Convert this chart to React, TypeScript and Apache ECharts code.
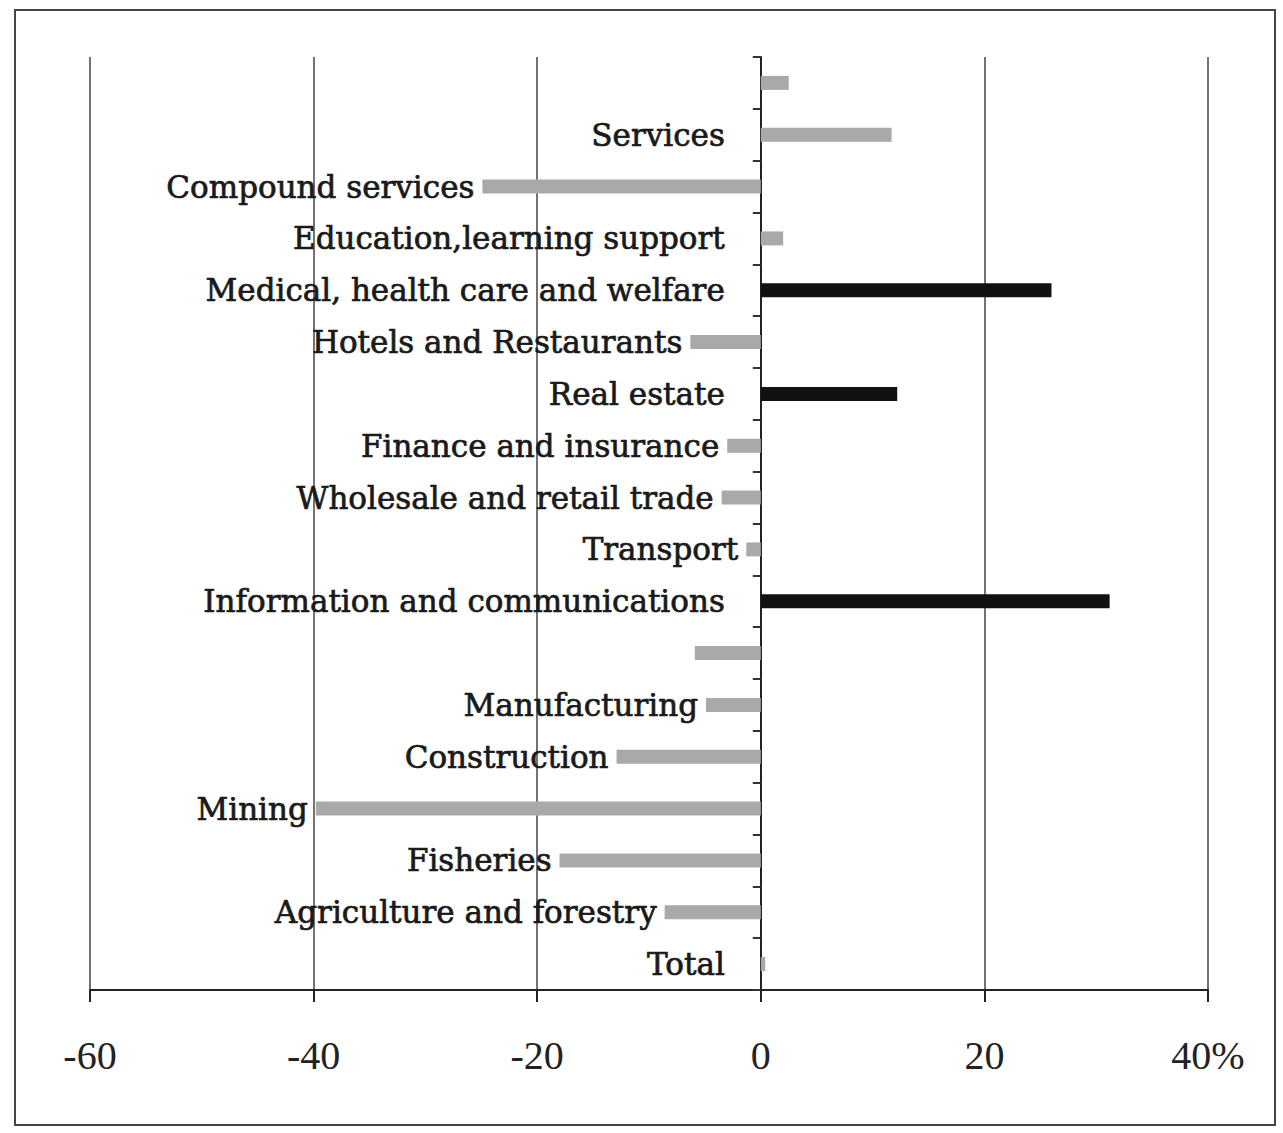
import React, { useEffect, useRef } from "react";
import * as echarts from "echarts";

// Categories listed top to bottom as in the picture
const categories: string[] = [
  "",
  "Services",
  "Compound services",
  "Education,learning support",
  "Medical, health care and welfare",
  "Hotels and Restaurants",
  "Real estate",
  "Finance and insurance",
  "Wholesale and retail trade",
  "Transport",
  "Information and communications",
  " ",
  "Manufacturing",
  "Construction",
  "Mining",
  "Fisheries",
  "Agriculture and forestry",
  "Total",
];

const values: number[] = [
  2.5, 11.7, -24.9, 2.0, 26.0, -6.3, 12.2, -3.0, -3.5, -1.3, 31.2, -5.9, -4.9,
  -12.9, -39.8, -18.0, -8.6, 0.4,
];

const darkCategories: string[] = [
  "Medical, health care and welfare",
  "Real estate",
  "Information and communications",
];

const xTicks = { min: -60, max: 40, interval: 20 };

export default function App() {
  const ref = useRef<HTMLDivElement>(null);
  useEffect(() => {
    document.body.style.margin = "0";
    const chart = echarts.init(ref.current!, null, { renderer: "svg" });
    const labelFont = "DejaVu Serif";
    chart.setOption({
      animation: false,
      backgroundColor: "#ffffff",
      graphic: [
        {
          type: "rect",
          shape: { x: 15, y: 10, width: 1260, height: 1115 },
          style: { fill: "none", stroke: "#444", lineWidth: 2 },
        },
      ],
      grid: { left: 90, right: 75, top: 57, bottom: 143, containLabel: false },
      xAxis: {
        type: "value",
        min: xTicks.min,
        max: xTicks.max,
        interval: xTicks.interval,
        axisLine: { show: true, onZero: false, lineStyle: { color: "#222", width: 2 } },
        axisTick: { show: true, length: 12, lineStyle: { color: "#222", width: 2 } },
        splitLine: { show: true, lineStyle: { color: "#444", width: 1.5 } },
        axisLabel: {
          margin: 45,
          fontFamily: "Liberation Serif",
          fontSize: 40,
          color: "#222",
          formatter: (v: number) => (v === xTicks.max ? `${v}%` : String(v)),
        },
      },
      yAxis: {
        type: "category",
        inverse: true,
        data: categories,
        axisLine: { show: true, onZero: true, lineStyle: { color: "#222", width: 2 } },
        axisTick: { show: true, length: 8, lineStyle: { color: "#333", width: 2 } },
        axisLabel: { show: false },
        splitLine: { show: false },
      },
      series: [
        {
          type: "bar",
          barWidth: 14,
          data: values.map((v, i) => ({
            value: v,
            itemStyle: {
              color: darkCategories.includes(categories[i]) ? "#111" : "#a9a9a9",
            },
            label: {
              show: categories[i].trim() !== "",
              position: "left",
              distance: v < 0 ? 8 : 36,
            },
          })),
          label: {
            show: true,
            position: "left",
            fontFamily: labelFont,
            fontSize: 31,
            color: "#1a1a1a",
            textBorderColor: "#1a1a1a",
            textBorderWidth: 0.7,
            formatter: (p: any) => categories[p.dataIndex],
          },
        },
      ],
    });
    return () => chart.dispose();
  }, []);
  return <div ref={ref} style={{ width: 1283, height: 1133 }} />;
}
